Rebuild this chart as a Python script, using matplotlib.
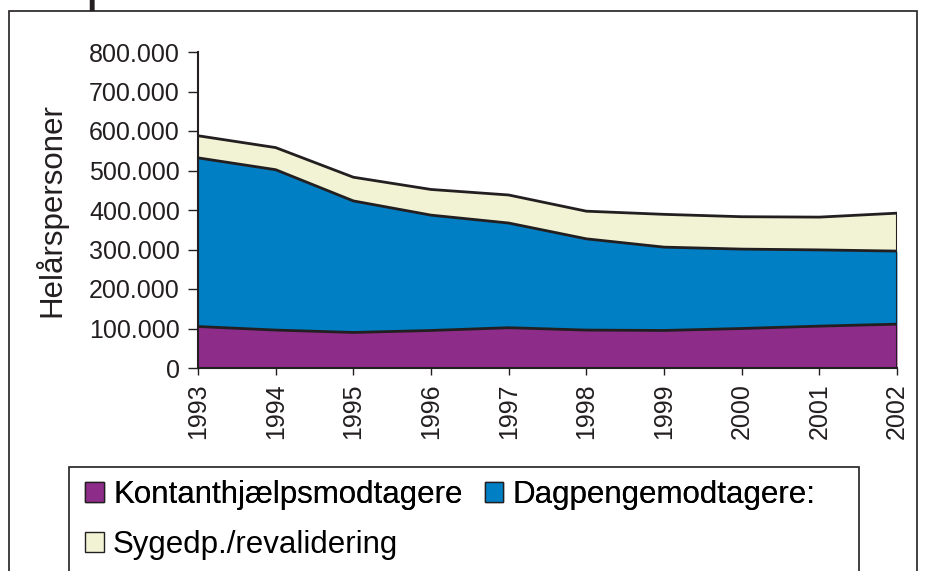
import numpy as np
import matplotlib.pyplot as plt

plt.rcParams['font.family'] = ['Liberation Sans', 'DejaVu Sans']

years = [1993, 1994, 1995, 1996, 1997, 1998, 1999, 2000, 2001, 2002]
kontant = [105000, 96000, 90000, 95000, 102000, 96000, 95000, 100000, 106000, 111000]
dagpenge = [427000, 406000, 333000, 292000, 265000, 231000, 211000, 201000, 193000, 185000]
sygedp = [56000, 56000, 60000, 65000, 71000, 70000, 83000, 82000, 83000, 96000]

labels = ['Kontanthjælpsmodtagere', 'Dagpengemodtagere:', 'Sygedp./revalidering']
colors = ['#8e2c8a', '#007fc4', '#f2f2d4']
edge = '#231f20'

fig = plt.figure(figsize=(9.27, 5.71), dpi=100)

# outer frame (cut off at the bottom)
frame = plt.Rectangle((9 / 927, -0.05), 908 / 927, 1 - 11 / 571 + 0.05,
                      transform=fig.transFigure, fill=False, ec=edge, lw=1.2)
fig.add_artist(frame)
# remains of the cut-off title
fig.text(85 / 927, 1 + 1 / 571, 'p', fontsize=40, ha='left', va='baseline', color=edge)

ax = fig.add_axes([198 / 927, 1 - 368 / 571, 699 / 927, 316 / 571])

x = np.array(years)
y1 = np.array(kontant)
y2 = y1 + np.array(dagpenge)
y3 = y2 + np.array(sygedp)

ax.fill_between(x, 0, y1, color=colors[0], lw=0, label=labels[0])
ax.fill_between(x, y1, y2, color=colors[1], lw=0, label=labels[1])
ax.fill_between(x, y2, y3, color=colors[2], lw=0, label=labels[2])
for y in (y1, y2, y3):
    ax.plot(x, y, color=edge, lw=2)
ax.plot([x[-1], x[-1]], [0, y3[-1]], color=edge, lw=1.5)

ax.set_xlim(1993, 2002)
ax.set_ylim(0, 800000)
ax.set_yticks(np.arange(0, 800001, 100000))
ax.set_yticklabels(['0'] + ['%d.000' % (v // 1000) for v in range(100000, 800001, 100000)])
ax.set_xticks(years)
ax.set_xticklabels([str(yv) for yv in years], rotation=90)
ax.tick_params(axis='both', labelsize=18, colors=edge, width=1)
ax.tick_params(axis='x', length=5, pad=6)
ax.tick_params(axis='y', length=7, pad=6)
for s in ('top', 'right'):
    ax.spines[s].set_visible(False)
for s in ('left', 'bottom'):
    ax.spines[s].set_color(edge)
    ax.spines[s].set_linewidth(1.5)
ax.set_ylabel('Helårspersoner', fontsize=22.5, color=edge)
ax.yaxis.set_label_coords(-131 / 699, 0.5)

# legend box
box = plt.Rectangle((69 / 927, -0.05), 790 / 927, (571 - 467) / 571 + 0.05,
                    transform=fig.transFigure, fill=False, ec=edge, lw=1.2)
fig.add_artist(box)
handles = [plt.Rectangle((0, 0), 1, 1, fc=c, ec=edge, lw=1) for c in colors]
leg = fig.legend(handles[:2], labels[:2], loc='center left', bbox_to_anchor=(85 / 927, 1 - 495 / 571),
                 ncol=2, frameon=False, fontsize=22.5, handlelength=0.6, handleheight=0.6,
                 handletextpad=0.3, columnspacing=0.7, borderaxespad=0, borderpad=0)
fig.add_artist(leg)
fig.legend(handles[2:], labels[2:], loc='center left', bbox_to_anchor=(85 / 927, 1 - 545 / 571),
           frameon=False, fontsize=22.5, handlelength=0.6, handleheight=0.6,
           handletextpad=0.3, borderaxespad=0, borderpad=0)

fig.savefig('out.png', dpi=100)
